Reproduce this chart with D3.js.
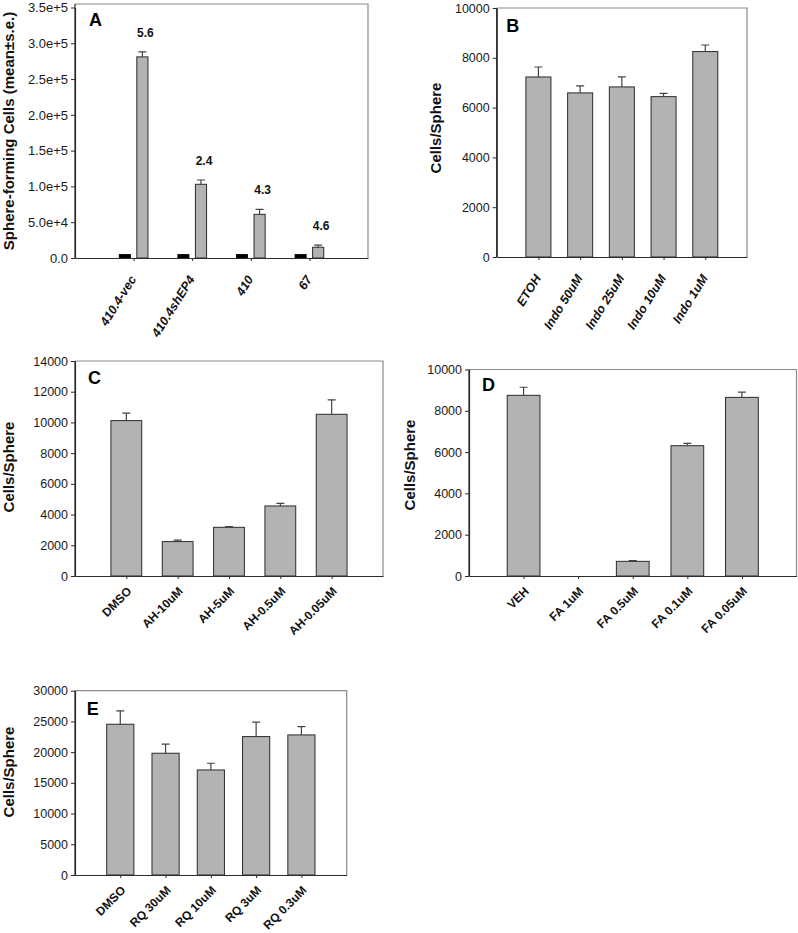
<!DOCTYPE html>
<html>
<head>
<meta charset="utf-8">
<script src="https://cdn.jsdelivr.net/npm/d3@7"></script>
<style>
  html, body { margin: 0; padding: 0; background: #fff; }
  svg { display: block; font-family: "Liberation Sans", Arial, sans-serif; }
</style>
</head>
<body>
<svg id="chart" width="798" height="933"></svg>
<script>
// ---------------- DATA ----------------
// Panel A
const catsA = ["410.4-vec", "410.4shEP4", "410", "67"];
const blackA = [5000, 5000, 5000, 5000];
const grayA = [281000, 103000, 61000, 15000];
const graySeA = [7000, 6000, 7000, 3000];
const foldA = ["5.6", "2.4", "4.3", "4.6"];
const ticksA = [0, 50000, 100000, 150000, 200000, 250000, 300000, 350000];
const tickLabelsA = ["0.0", "5.0e+4", "1.0e+5", "1.5e+5", "2.0e+5", "2.5e+5", "3.0e+5", "3.5e+5"];

// Panel B
const catsB = ["ETOH", "Indo 50uM", "Indo 25uM", "Indo 10uM", "Indo 1uM"];
const valsB = [7230, 6590, 6830, 6440, 8250];
const seB = [400, 280, 400, 130, 265];
const ticksB = [0, 2000, 4000, 6000, 8000, 10000];

// Panel C
const catsC = ["DMSO", "AH-10uM", "AH-5uM", "AH-0.5uM", "AH-0.05uM"];
const valsC = [10120, 2240, 3170, 4560, 10530];
const seC = [480, 90, 40, 175, 940];
const ticksC = [0, 2000, 4000, 6000, 8000, 10000, 12000, 14000];

// Panel D
const catsD = ["VEH", "FA 1uM", "FA 0.5uM", "FA 0.1uM", "FA 0.05uM"];
const valsD = [8750, 0, 710, 6310, 8650];
const seD = [390, 0, 30, 115, 250];
const ticksD = [0, 2000, 4000, 6000, 8000, 10000];

// Panel E
const catsE = ["DMSO", "RQ 30uM", "RQ 10uM", "RQ 3uM", "RQ 0.3uM"];
const valsE = [24540, 19820, 17100, 22530, 22800];
const seE = [2170, 1470, 1090, 2340, 1350];
const ticksE = [0, 5000, 10000, 15000, 20000, 25000, 30000];

// ---------------- DRAWING ----------------
const svg = d3.select("#chart");
const FONT = '"Liberation Sans", Arial, sans-serif';
const BAR_FILL = "#b3b3b3";
const BAR_STROKE = "#2b2b2b";
const AXIS_COLOR = "#2b2b2b";
const FRAME_COLOR = "#8a8a8a";
const ERR_COLOR = "#444";

function panel(cfg) {
  const g = svg.append("g");
  const x = d3.scalePoint().domain(cfg.cats).range([cfg.left, cfg.right]).padding(1);
  const y = d3.scaleLinear().domain([0, cfg.max]).range([cfg.bottom, cfg.top]);
  const step = x.step();

  // frame (top & right)
  const frameTop = cfg.top - (cfg.frameLift || 0);
  g.append("path")
    .attr("d", `M${cfg.left},${frameTop}H${cfg.right}V${cfg.bottom}`)
    .attr("fill", "none").attr("stroke", FRAME_COLOR).attr("stroke-width", 1.2);
  g.append("line").attr("x1", cfg.left).attr("x2", cfg.left)
    .attr("y1", frameTop).attr("y2", cfg.bottom)
    .attr("stroke", AXIS_COLOR).attr("stroke-width", 1.2);

  // y axis
  const yAxis = d3.axisLeft(y).tickValues(cfg.ticks).tickSize(4).tickSizeOuter(0).tickPadding(3)
    .tickFormat((d, i) => cfg.tickLabels ? cfg.tickLabels[i] : d);
  const ya = g.append("g").attr("transform", `translate(${cfg.left},0)`).call(yAxis);
  ya.select(".domain").attr("stroke", AXIS_COLOR).attr("stroke-width", 1.2);
  ya.selectAll(".tick line").attr("stroke", AXIS_COLOR);
  ya.selectAll(".tick text").attr("font-family", FONT).attr("font-size", cfg.tickFont)
    .attr("fill", "#1a1a1a");

  // bars
  if (cfg.grouped) {
    const wb = 0.19 * step, off = 0.15 * step;
    g.selectAll(".bk").data(cfg.cats).enter().append("rect")
      .attr("x", (d) => x(d) - off - wb / 2).attr("width", wb)
      .attr("y", (d, i) => y(cfg.black[i])).attr("height", (d, i) => cfg.bottom - y(cfg.black[i]))
      .attr("fill", "#000").attr("stroke", "#000").attr("stroke-width", 0.8);
    g.selectAll(".gr").data(cfg.cats).enter().append("rect")
      .attr("x", (d) => x(d) + off - wb / 2).attr("width", wb)
      .attr("y", (d, i) => y(cfg.vals[i])).attr("height", (d, i) => cfg.bottom - y(cfg.vals[i]))
      .attr("fill", BAR_FILL).attr("stroke", BAR_STROKE).attr("stroke-width", 1);
    cfg.cats.forEach((c, i) => {
      const cx = x(c) + off;
      const yt = y(cfg.vals[i] + cfg.se[i]);
      g.append("path").attr("d", `M${cx},${y(cfg.vals[i])}V${yt}M${cx - 4},${yt}H${cx + 4}`)
        .attr("stroke", ERR_COLOR).attr("stroke-width", 1.2).attr("fill", "none");
      g.append("text").attr("x", cx + 3).attr("y", yt - 15)
        .attr("text-anchor", "middle").attr("font-family", FONT).attr("font-weight", "bold")
        .attr("font-size", "12px").attr("fill", "#111").text(cfg.fold[i]);
    });
  } else {
    const bw = 0.6 * step;
    cfg.cats.forEach((c, i) => {
      if (cfg.vals[i] <= 0) return;
      g.append("rect").attr("x", x(c) - bw / 2).attr("width", bw)
        .attr("y", y(cfg.vals[i])).attr("height", cfg.bottom - y(cfg.vals[i]))
        .attr("fill", BAR_FILL).attr("stroke", BAR_STROKE).attr("stroke-width", 1);
      const cx = x(c);
      const yt = y(cfg.vals[i] + cfg.se[i]);
      g.append("path").attr("d", `M${cx},${y(cfg.vals[i])}V${yt}M${cx - 4},${yt}H${cx + 4}`)
        .attr("stroke", ERR_COLOR).attr("stroke-width", 1.2).attr("fill", "none");
    });
  }

  // x axis
  const xAxis = d3.axisBottom(x).tickSize(3).tickSizeOuter(0).tickFormat("");
  const xa = g.append("g").attr("transform", `translate(0,${cfg.bottom})`).call(xAxis);
  xa.select(".domain").attr("stroke", AXIS_COLOR).attr("stroke-width", 1.2);
  xa.selectAll(".tick line").attr("stroke", AXIS_COLOR);

  // x labels
  g.selectAll(".xl").data(cfg.cats).enter().append("text")
    .attr("transform", (d) => `translate(${x(d) + cfg.lblDx},${cfg.bottom + cfg.lblDy}) rotate(${cfg.angle})`)
    .attr("text-anchor", "end").attr("font-family", FONT).attr("font-weight", "bold")
    .attr("font-style", cfg.italic ? "italic" : "normal")
    .attr("font-size", cfg.lblFont).attr("fill", "#111").text((d) => d);

  // y title
  g.append("text").attr("transform", `translate(${cfg.titleX},${cfg.titleY}) rotate(-90)`)
    .attr("text-anchor", "middle").attr("font-family", FONT).attr("font-weight", "bold")
    .attr("font-size", "15px").attr("fill", "#111").text(cfg.title);

  // panel letter
  g.append("text").attr("x", cfg.left + cfg.letterDx).attr("y", frameTop + cfg.letterDy)
    .attr("font-family", FONT).attr("font-weight", "bold").attr("font-size", "18px")
    .attr("fill", "#000").text(cfg.letter);
}

panel({
  letter: "A", cats: catsA, vals: grayA, se: graySeA, black: blackA, fold: foldA, grouped: true,
  max: 350000, ticks: ticksA, tickLabels: tickLabelsA, tickFont: "13px",
  left: 75, right: 368, top: 7.5, bottom: 258, frameLift: 3.5,
  angle: -58, italic: true, lblDx: 3, lblDy: 21, lblFont: "12.5px",
  title: "Sphere-forming Cells (mean\u00b1s.e.)", titleX: 14, titleY: 131,
  letterDx: 14, letterDy: 22
});

panel({
  letter: "B", cats: catsB, vals: valsB, se: seB,
  max: 10000, ticks: ticksB, tickFont: "12.5px",
  left: 496.7, right: 747, top: 8, bottom: 257,
  angle: -58, italic: true, lblDx: 3, lblDy: 21, lblFont: "12.5px",
  title: "Cells/Sphere", titleX: 440.7, titleY: 128,
  letterDx: 9.5, letterDy: 24
});

panel({
  letter: "C", cats: catsC, vals: valsC, se: seC,
  max: 14000, ticks: ticksC, tickFont: "12.5px",
  left: 75, right: 383, top: 361, bottom: 576,
  angle: -45, italic: false, lblDx: 6, lblDy: 16, lblFont: "12px",
  title: "Cells/Sphere", titleX: 14, titleY: 467,
  letterDx: 13, letterDy: 22.5
});

panel({
  letter: "D", cats: catsD, vals: valsD, se: seD,
  max: 10000, ticks: ticksD, tickFont: "12.5px",
  left: 469, right: 796.5, top: 369.5, bottom: 576,
  angle: -45, italic: false, lblDx: 6, lblDy: 16, lblFont: "12px",
  title: "Cells/Sphere", titleX: 414.7, titleY: 465,
  letterDx: 13, letterDy: 21.5
});

panel({
  letter: "E", cats: catsE, vals: valsE, se: seE,
  max: 30000, ticks: ticksE, tickFont: "12.5px",
  left: 75, right: 346.7, top: 690.7, bottom: 875,
  angle: -45, italic: false, lblDx: 6, lblDy: 16, lblFont: "12px",
  title: "Cells/Sphere", titleX: 14, titleY: 772,
  letterDx: 11.7, letterDy: 24
});
</script>
</body>
</html>
